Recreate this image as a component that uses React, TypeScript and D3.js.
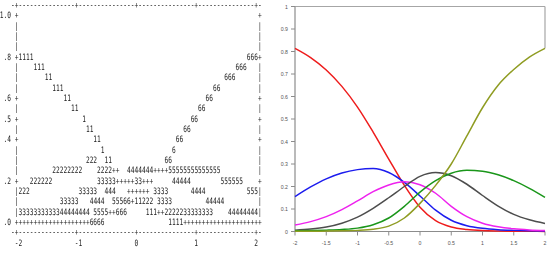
import React, { useEffect } from 'react';
import * as d3 from 'd3';

const W = 549;
const H = 254;

// ---------- smooth-curve panel data ----------
const xGrid = [-2, -1.75, -1.5, -1.25, -1, -0.75, -0.5, -0.25, 0, 0.25, 0.5, 0.75, 1, 1.25, 1.5, 1.75, 2];
const cat1 = [0.814, 0.773, 0.718, 0.645, 0.553, 0.442, 0.322, 0.205, 0.108, 0.048, 0.02, 0.009, 0.004, 0.002, 0.001, 0.0007, 0.0005];
const cat2 = [0.155, 0.198, 0.234, 0.26, 0.275, 0.28, 0.262, 0.218, 0.158, 0.095, 0.05, 0.026, 0.014, 0.008, 0.005, 0.003, 0.002];
const cat3 = [0.029, 0.044, 0.066, 0.097, 0.136, 0.177, 0.207, 0.221, 0.208, 0.17, 0.112, 0.066, 0.037, 0.021, 0.012, 0.007, 0.004];
const cat4 = [0.006, 0.011, 0.02, 0.037, 0.064, 0.103, 0.15, 0.2, 0.245, 0.262, 0.248, 0.21, 0.16, 0.113, 0.076, 0.052, 0.036];
const cat5 = [0.003, 0.004, 0.006, 0.009, 0.015, 0.03, 0.06, 0.112, 0.175, 0.226, 0.259, 0.272, 0.268, 0.252, 0.226, 0.192, 0.152];
const cat6 = [0.001, 0.001, 0.002, 0.003, 0.005, 0.01, 0.024, 0.06, 0.125, 0.205, 0.3, 0.425, 0.55, 0.65, 0.72, 0.775, 0.814];
const catColors = ['#ee1c1c', '#1c1cee', '#ee22ee', '#4d4d4d', '#1a961a', '#8f9c22'];

const rightXTicks = [-2, -1.5, -1, -0.5, 0, 0.5, 1, 1.5, 2];
const rightXLabels = ['-2', '-1.5', '-1', '-0.5', '0', '0.5', '1', '1.5', '2'];
const rightYTicks = [0, 0.1, 0.2, 0.3, 0.4, 0.5, 0.6, 0.7, 0.8, 0.9, 1];
const rightYLabels = ['0', '0.1', '0.2', '0.3', '0.4', '0.5', '0.6', '0.7', '0.8', '0.9', '1'];

// ---------- line-printer panel data ----------
// each run: [vertical level, column (0 = x of -2, 16 columns per unit), symbols]
const printerRuns: [number, number, string][] = [
  [0.8, 1, '1111'], [0.8, 62, '666'],
  [0.75, 5, '111'], [0.75, 59, '666'],
  [0.7, 8, '11'], [0.7, 56, '666'],
  [0.65, 10, '111'], [0.65, 53, '66'],
  [0.6, 13, '11'], [0.6, 51, '66'],
  [0.55, 15, '11'], [0.55, 49, '66'],
  [0.5, 18, '1'], [0.5, 47, '66'],
  [0.45, 19, '11'], [0.45, 45, '66'],
  [0.4, 21, '11'], [0.4, 43, '66'],
  [0.35, 23, '1'], [0.35, 42, '6'],
  [0.3, 19, '222'], [0.3, 24, '11'], [0.3, 40, '66'],
  [0.25, 10, '22222222'], [0.25, 22, '2222++'], [0.25, 30, '4444444++++55555555555555'],
  [0.2, 4, '222222'], [0.2, 22, '33333+++++33+++'], [0.2, 42, '44444'], [0.2, 55, '555555'],
  [0.15, 1, '222'], [0.15, 17, '33333'], [0.15, 24, '444'], [0.15, 30, '++++++'], [0.15, 37, '3333'], [0.15, 47, '4444'], [0.15, 62, '555'],
  [0.1, 12, '33333'], [0.1, 20, '4444'], [0.1, 26, '55566+11222'], [0.1, 38, '3333'], [0.1, 51, '44444'],
  [0.05, 1, '33333333333'], [0.05, 12, '44444444'], [0.05, 21, '5555++666'], [0.05, 35, '111++2222233333333'], [0.05, 57, '44444444'],
  [0, 1, '+++++++++++++++++++'], [0, 20, '6666'], [0, 41, '1111'], [0, 45, '++++++++++++++++++++'],
];
const printerYTicks = [1.0, 0.8, 0.6, 0.5, 0.4, 0.2, 0.0];
const printerYLabels = ['1.0', '.8', '.6', '.5', '.4', '.2', '.0'];
const printerXTicks = [-2, -1, 0, 1, 2];
const printerXLabels = ['-2', '-1', '0', '1', '2'];

const MONO = '"DejaVu Sans Mono", monospace';
const FIRST_COL = -4;
const LAST_COL = 65;
const MONO_SIZE = 8.8;
const MONO_ADVANCE = 0.602 * MONO_SIZE;

function PrinterPlot() {
  const col = d3.scaleLinear().domain([0, 64]).range([16.7, 256.1]);
  const cw = col(1) - col(0);
  const sx = cw / MONO_ADVANCE; // horizontal squeeze of the printer font
  const level = d3.scaleLinear().domain([0, 1]).range([221.8, 15.2]);
  const step = 0.05;
  const nCols = LAST_COL - FIRST_COL + 1;

  // one character grid per printed line
  const lines = new Map<string, string[]>();
  const key = (v: number) => v.toFixed(2);
  const put = (v: number, c: number, s: string) => {
    const k = key(v);
    if (!lines.has(k)) lines.set(k, new Array(nCols).fill(' '));
    const row = lines.get(k)!;
    for (let i = 0; i < s.length; i++) {
      const idx = c + i - FIRST_COL;
      if (idx >= 0 && idx < nCols) row[idx] = s[i];
    }
  };

  const border = '-' + ('+' + '-'.repeat(15)).repeat(4) + '+-';
  put(1 + step, -1, border);
  put(-step, -1, border);
  const isTick = (v: number) => printerYTicks.some((t) => Math.abs(t - v) < 1e-6);
  d3.range(0, 21).forEach((i) => {
    const v = +(1 - i * step).toFixed(2);
    put(v, 0, isTick(v) ? '+' : '|');
    put(v, 65, isTick(v) ? '+' : '|');
  });
  printerYTicks.forEach((t, i) => put(t, -1 - printerYLabels[i].length, printerYLabels[i]));
  printerXTicks.forEach((t, i) => put(-2 * step, (t + 2) * 16, printerXLabels[i]));
  printerRuns.forEach(([v, c, s]) => put(v, c, s));

  // split each printed line into its non-blank words
  const words: { k: string; v: number; c: number; s: string }[] = [];
  lines.forEach((row, k) => {
    const str = row.join('');
    const re = /\S+/g;
    let m: RegExpExecArray | null;
    while ((m = re.exec(str))) {
      words.push({ k: k + '_' + m.index, v: +k, c: m.index + FIRST_COL, s: m[0] });
    }
  });

  return (
    <g filter="url(#mono-gray)">
      <g transform={`scale(${sx},1)`} fontFamily={MONO} fontSize={MONO_SIZE} fill="#222">
        {words.map((w) => (
          <text
            key={w.k}
            x={(col(w.c) - cw / 2) / sx}
            y={level(w.v) + 3.2}
            textLength={(w.s.length * cw) / sx}
            lengthAdjust="spacingAndGlyphs"
          >
            {w.s}
          </text>
        ))}
      </g>
    </g>
  );
}

function CurvePlot() {
  const x = d3.scaleLinear().domain([-2, 2]).range([295, 545]);
  const y = d3.scaleLinear().domain([0, 1]).range([231.5, 6.5]);
  const series = [cat1, cat2, cat3, cat4, cat5, cat6];
  const line = d3
    .line<number>()
    .x((_, i) => x(xGrid[i]))
    .y((d) => y(d))
    .curve(d3.curveMonotoneX);
  const axisColor = '#8c8c8c';
  const lastOlive = cat6[cat6.length - 1];
  const labelFont = "Arial, 'Liberation Sans', sans-serif";

  return (
    <g>
      <line x1={x(-2)} x2={x(2)} y1={y(1)} y2={y(1)} stroke="#a6a6a6" strokeWidth={1.2} />
      <line x1={x(2)} x2={x(2)} y1={y(1)} y2={y(lastOlive)} stroke="#a6a6a6" strokeWidth={1.2} />
      <line x1={x(-2)} x2={x(-2)} y1={y(0)} y2={y(1)} stroke={axisColor} strokeWidth={1.2} />
      <line x1={x(-2)} x2={x(2)} y1={y(0)} y2={y(0)} stroke={axisColor} strokeWidth={1.2} />
      {rightYTicks.map((t, i) => (
        <g key={'yt' + i}>
          <line x1={x(-2) - 4} x2={x(-2)} y1={y(t)} y2={y(t)} stroke={axisColor} strokeWidth={1} />
          <text x={x(-2) - 7} y={y(t) + 2} fontSize={5.2} textAnchor="end" fill="#555" fontFamily={labelFont}>
            {rightYLabels[i]}
          </text>
        </g>
      ))}
      {rightXTicks.map((t, i) => (
        <g key={'xt' + i}>
          <line x1={x(t)} x2={x(t)} y1={y(0)} y2={y(0) + 4} stroke={axisColor} strokeWidth={1} />
          <text x={x(t)} y={y(0) + 13} fontSize={5.2} textAnchor="middle" fill="#555" fontFamily={labelFont}>
            {rightXLabels[i]}
          </text>
        </g>
      ))}
      {series.map((s, i) => (
        <path key={'s' + i} d={line(s) || ''} fill="none" stroke={catColors[i]} strokeWidth={1.5} />
      ))}
    </g>
  );
}

export default function App() {
  useEffect(() => {
    document.body.style.margin = '0';
  }, []);
  return (
    <svg width={W} height={H} viewBox={`0 0 ${W} ${H}`} style={{ display: 'block', background: '#fff' }}>
      <defs>
        <filter id="mono-gray" x={0} y={0} width={W} height={H} filterUnits="userSpaceOnUse">
          <feColorMatrix type="saturate" values="0" />
        </filter>
      </defs>
      <rect width={W} height={H} fill="#fff" />
      <PrinterPlot />
      <CurvePlot />
    </svg>
  );
}
